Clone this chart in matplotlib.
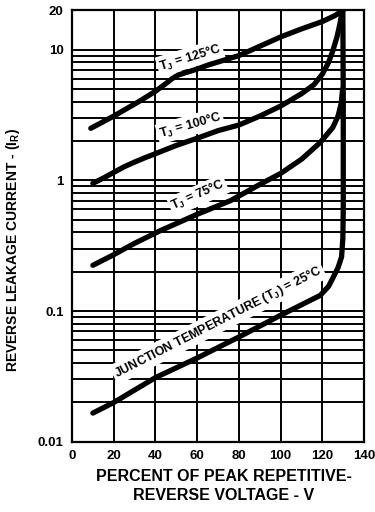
import matplotlib
matplotlib.use("Agg")
import matplotlib.pyplot as plt
from matplotlib.ticker import FixedLocator, NullLocator

plt.rcParams['font.family'] = ['Liberation Sans', 'DejaVu Sans']
plt.rcParams['mathtext.fontset'] = 'custom'
plt.rcParams['mathtext.rm'] = 'Liberation Sans:bold'
plt.rcParams['mathtext.it'] = 'Liberation Sans:bold'
plt.rcParams['mathtext.bf'] = 'Liberation Sans:bold'
plt.rcParams['mathtext.default'] = 'rm'

# Percent of peak repetitive reverse voltage vs leakage current
x125 = [9, 20, 32, 40, 45, 48, 51, 55, 60, 65, 80, 100, 110, 120, 126, 130]
y125 = [2.5, 3.1, 4.0, 4.8, 5.5, 6.0, 6.4, 6.7, 7.1, 7.6, 9.0, 12.5, 14.4, 16.4, 18.2, 20]

x100 = [10, 15, 20, 25, 30, 35, 40, 50, 60, 70, 80, 90, 100, 110, 116, 120, 123, 125, 127, 128.5, 129.5]
y100 = [0.95, 1.04, 1.15, 1.27, 1.38, 1.49, 1.6, 1.85, 2.1, 2.4, 2.65, 3.1, 3.7, 4.6, 5.4, 6.5, 8.0, 9.8, 12.5, 16, 20]

x75 = [10, 20, 30, 42, 60, 76, 90, 100, 110, 119, 125, 127.5, 129, 129.7]
y75 = [0.224, 0.27, 0.33, 0.41, 0.55, 0.70, 0.93, 1.13, 1.45, 1.95, 2.54, 3.1, 3.87, 5.0]

x25 = [10, 20, 40, 60, 80, 100, 119, 123, 125, 127.5, 129.2, 129.8, 130.0, 130.0, 129.8]
y25 = [0.0166, 0.020, 0.031, 0.0438, 0.0634, 0.093, 0.132, 0.155, 0.179, 0.215, 0.26, 0.36, 0.6, 4.0, 20]

x_ticks = [0, 20, 40, 60, 80, 100, 120, 140]
y_ticks = [0.01, 0.1, 1, 10, 20]
y_tick_labels = ['0.01', '0.1', '1', '10', '20']
minor_y = [m * d for d in (0.01, 0.1, 1) for m in range(2, 10)]

fig = plt.figure(figsize=(3.75, 5.12), dpi=100)
ax = fig.add_axes([0.192, 0.137, 0.779, 0.843])
ax.set_yscale('log')
ax.set_xlim(0, 140)
ax.set_ylim(0.01, 20)

# grid
for xv in x_ticks[1:-1]:
    ax.axvline(xv, color='black', lw=1.4, zorder=1)
for yv in [0.1, 1, 10] + minor_y:
    ax.axhline(yv, color='black', lw=1.4, zorder=1)

for xs, ys in [(x125, y125), (x100, y100), (x75, y75), (x25, y25)]:
    ax.plot(xs, ys, color='black', lw=3.8, solid_capstyle='round',
            solid_joinstyle='round', zorder=4)

ax.xaxis.set_major_locator(FixedLocator(x_ticks))
ax.yaxis.set_major_locator(FixedLocator(y_ticks))
ax.yaxis.set_minor_locator(NullLocator())
ax.set_yticklabels(y_tick_labels)
ax.tick_params(length=0, labelsize=9.5, pad=6)
for lab in ax.get_xticklabels() + ax.get_yticklabels():
    lab.set_fontweight('bold')
for sp in ax.spines.values():
    sp.set_linewidth(1.6)

box = dict(fc='white', ec='none', pad=1.5)
kw = dict(fontsize=9, fontweight='bold', ha='center', va='center',
          rotation_mode='anchor', bbox=box, zorder=3)
ax.text(56.6, 8.7, r'T$_J$ = 125°C', rotation=17, **kw)
ax.text(56.6, 2.63, r'T$_J$ = 100°C', rotation=16, **kw)
ax.text(60.4, 0.767, r'T$_J$ = 75°C', rotation=24, **kw)
ax.text(70, 0.0824, r'JUNCTION TEMPERATURE (T$_J$) = 25°C', rotation=27, **kw)

ax.set_xlabel('PERCENT OF PEAK REPETITIVE-\nREVERSE VOLTAGE - V',
              fontsize=11.5, fontweight='bold', linespacing=1.4)
ax.xaxis.set_label_coords(0.52, -0.062)
ax.set_ylabel(r'REVERSE LEAKAGE CURRENT - (I$_\mathregular{R}$)', fontsize=10,
              fontweight='bold')
ax.yaxis.set_label_coords(-0.17, 0.445)

fig.savefig('out.png', dpi=100)
